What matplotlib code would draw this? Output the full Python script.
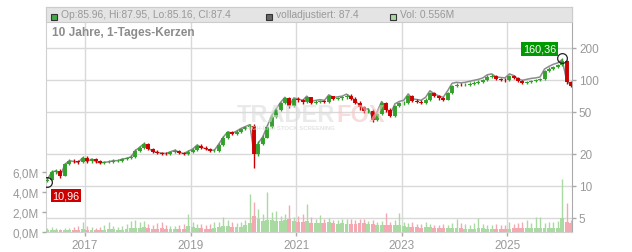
import numpy as np
import pandas as pd
import matplotlib
matplotlib.use("Agg")
import matplotlib.pyplot as plt
import matplotlib.dates as mdates
from matplotlib.patches import Rectangle

plt.rcParams['font.family'] = ['Liberation Sans', 'DejaVu Sans']

# monthly candles, one per month from Apr 2016 to Mar 2026
months = pd.date_range('2016-04-01', periods=120, freq='MS') + pd.Timedelta(days=14)

close = [
    # 2016 Apr-Dec
    11.5, 13.5, 13.9, 12.5, 16.0, 17.3, 17.0, 16.7, 18.4,
    # 2017
    17.0, 17.9, 17.0, 16.5, 16.7, 16.9, 17.3, 17.3, 17.9, 18.2, 18.8, 21.5,
    # 2018
    23.0, 24.8, 22.5, 21.0, 20.5, 20.2, 20.0, 20.8, 21.5, 20.5, 20.0, 21.0,
    # 2019
    22.0, 24.0, 23.0, 22.2, 21.5, 21.5, 24.5, 28.5, 32.0, 31.0, 32.5, 34.4,
    # 2020
    35.5, 37.0, 20.0, 25.0, 28.5, 36.0, 45.0, 52.0, 60.0, 67.0, 56.0, 66.0,
    # 2021
    64.0, 62.0, 68.0, 61.0, 62.0, 63.0, 62.0, 70.0, 66.0, 67.0, 68.0, 71.0,
    # 2022
    66.0, 61.0, 55.0, 51.0, 51.0, 42.0, 48.0, 60.0, 52.0, 46.0, 57.0, 60.0,
    # 2023
    61.0, 70.0, 63.0, 62.0, 61.0, 65.0, 75.0, 70.0, 67.0, 65.0, 75.0, 88.0,
    # 2024
    90.0, 89.0, 90.0, 92.0, 94.0, 96.0, 99.0, 106.0, 108.0, 101.0, 100.0, 99.0,
    # 2025
    108.0, 104.0, 97.0, 94.0, 96.0, 98.0, 99.0, 101.0, 120.0, 127.0, 133.0, 137.0,
    # 2026 Jan-Mar
    150.0, 95.0, 87.4,
]
first_open = 11.2

high = [
    12.2, 14.2, 14.6, 14.3, 16.6, 17.9, 18.0, 17.6, 19.2,
    19.0, 18.4, 18.3, 17.5, 17.2, 17.4, 17.8, 17.9, 18.4, 18.8, 19.4, 22.3,
    23.8, 25.8, 25.5, 23.0, 21.6, 21.1, 20.8, 21.4, 22.1, 22.0, 21.1, 21.7,
    22.8, 24.8, 24.6, 23.6, 22.8, 22.2, 25.2, 29.5, 33.0, 32.8, 33.5, 35.4,
    36.5, 38.4, 38.0, 26.5, 30.0, 37.5, 46.5, 54.0, 62.0, 69.0, 68.5, 67.5,
    68, 66, 70, 69, 64, 65, 65, 72, 71, 69, 70, 73,
    73, 68, 63, 57, 54, 53, 49, 62, 62, 54, 58, 62,
    63.5, 72, 71.5, 65.5, 64, 67, 77, 77, 71.5, 69, 77, 90,
    93, 92.5, 92.5, 95, 97, 99, 102, 110, 112, 110, 104, 103,
    111, 110, 106, 99, 98, 100, 102, 104, 123, 131, 136, 142,
    160.36, 152, 97,
]
low = [
    10.96, 11.3, 12.9, 12.0, 12.3, 15.6, 16.4, 16.2, 16.4,
    16.5, 16.6, 16.6, 16.0, 16.1, 16.3, 16.5, 16.8, 16.9, 17.4, 17.8, 18.4,
    21.0, 22.4, 22.0, 20.5, 20.0, 19.7, 19.5, 19.6, 20.3, 20.0, 19.4, 19.5,
    20.4, 21.5, 22.5, 21.8, 21.0, 20.9, 21.0, 24.0, 27.8, 30.2, 30.3, 31.8,
    33.5, 34.8, 14.8, 19.0, 24.5, 28.0, 35.0, 44.0, 51.0, 58.5, 54.0, 55.0,
    62, 59.5, 61, 59.5, 59.5, 60.5, 60, 61, 64, 64, 65, 66,
    64, 59, 52, 49, 48.5, 40, 41, 47, 50, 44.5, 45, 55,
    58, 59.5, 61.5, 60, 59, 59.5, 63.5, 68, 65, 63, 64, 73,
    85, 86.5, 87, 88, 90, 92, 94, 97, 103, 99, 97, 96,
    97, 101, 95, 91, 92, 94, 95, 97, 100, 117, 124, 130,
    135, 92, 86,
]

# gap between grey "volladjustiert" line and candles, per year
adj_factor = {2016: 1.0, 2017: 1.0, 2018: 1.01, 2019: 1.01, 2020: 1.02, 2021: 1.03,
              2022: 1.04, 2023: 1.05, 2024: 1.05, 2025: 1.05, 2026: 1.03}

# volume in millions: typical daily level and largest day per month
vol_base = [
    .22, .25, .22, .2, .2, .2, .22, .25, .3,
    .25, .25, .22, .22, .25, .3, .3, .25, .25, .3, .4, .45,
    .45, .5, .4, .35, .35, .4, .3, .3, .3, .3, .35, .6,
    .5, .45, .4, .35, .35, .45, .5, .6, .6, .55, .5, .5,
    .7, .9, 1.6, 1.3, 1.1, 1.2, 1.2, 1.1, 1.1, 1.2, 1.3, 1.1,
    1.0, 1.0, 1.1, .9, .9, .95, .9, 1.0, .9, .85, .9, .85,
    .8, .85, .9, .9, .85, .8, .7, .75, .75, .7, .7, .7,
    .6, .55, .5, .5, .45, .5, .5, .45, .45, .45, .4, .45,
    .4, .4, .35, .35, .35, .4, .4, .35, .35, .35, .35, .35,
    .35, .4, .4, .4, .4, .45, .4, .4, .45, .4, .4, .45,
    1.4, 1.0, .9,
]
vol_peak = [
    .45, .5, .4, .35, .4, .45, .5, .6, 1.0,
    .6, .5, .45, .5, .7, 1.0, .6, .5, .6, .8, 1.1, 1.2,
    1.0, 1.1, .8, .7, .9, 1.0, .7, .6, .6, .7, .8, 1.8,
    1.0, .8, .8, .7, .8, 1.0, 1.0, 1.5, 1.2, 1.0, .9, 1.0,
    1.2, 3.8, 3.0, 2.3, 1.8, 4.0, 2.0, 2.1, 1.6, 1.8, 2.7, 1.5,
    1.6, 1.8, 2.8, 1.5, 1.3, 1.7, 1.3, 1.4, 1.2, 1.2, 1.3, 1.3,
    1.3, 1.2, 1.3, 1.3, 1.1, 1.2, 1.0, 1.1, 1.9, 1.0, 1.2, 1.9,
    1.0, .9, 1.0, .8, .8, 1.0, .8, .7, .7, .8, .7, .9,
    1.3, .9, .8, .7, .9, 1.4, .8, .7, .7, .8, .7, .7,
    1.0, .8, .9, 1.0, 1.2, .9, 1.5, 1.5, .9, 1.0, 1.0, 1.1,
    5.3, 2.9, 1.2,
]

price_ticks = [5, 10, 20, 50, 100, 200]
vol_ticks = [0, 2, 4, 6]
vol_labels = ['0,0M', '2,0M', '4,0M', '6,0M']
year_ticks = [2017, 2019, 2021, 2023, 2025]

header_items = [
    ('#44aa44', 'Op:85.96, Hi:87.95, Lo:85.16, Cl:87.4', 51),
    ('#666666', 'volladjustiert: 87.4', 266),
    ('#a8d8a0', 'Vol: 0.556M', 390),
]

GREEN = '#33a02c'
RED = '#cc0000'
VGREEN = '#a9daa2'
VRED = '#f2a9b1'
GRID = '#d9d9d9'
TXT = '#999999'

W, H = 632, 253
fig = plt.figure(figsize=(W / 100, H / 100), dpi=100)
ax = fig.add_axes([46 / W, 20 / H, 526 / W, 225 / H])
axv = ax.twinx()

x = mdates.date2num(months)
opens = [first_open] + close[:-1]
up = [c >= o for o, c in zip(opens, close)]

# price axis
ax.set_yscale('log')
ax.set_ylim(3.69, 483)
ax.set_xlim(mdates.date2num(pd.Timestamp('2016-04-06')), mdates.date2num(pd.Timestamp('2026-03-24')))

for p in price_ticks:
    ax.axhline(p, color=GRID, lw=1, zorder=0)
for yr in year_ticks:
    ax.axvline(mdates.date2num(pd.Timestamp(f'{yr}-01-01')), color=GRID, lw=1, zorder=0)

adj = [c * adj_factor[d.year] for d, c in zip(months, close)]
ax.plot(x, adj, color='#8c8c8c', lw=1.1, zorder=2)

cols = [GREEN if u else RED for u in up]
ax.vlines(x, low, high, colors=cols, lw=1.0, zorder=3)
ax.vlines(x, np.minimum(opens, close), np.maximum(opens, close), colors=cols, lw=2.8, zorder=3)

ax.yaxis.tick_right()
ax.set_yticks(price_ticks)
ax.set_yticklabels([str(p) for p in price_ticks])
ax.yaxis.set_minor_locator(matplotlib.ticker.NullLocator())
ax.set_xticks([mdates.date2num(pd.Timestamp(f'{yr}-01-01')) for yr in year_ticks])
ax.set_xticklabels([str(yr) for yr in year_ticks])
ax.tick_params(axis='both', colors='#aaaaaa', labelcolor=TXT, labelsize=8.5, length=3, width=1, pad=2)
for s in ['top', 'left', 'bottom']:
    ax.spines[s].set_color('#d0d0d0')
ax.spines['right'].set_color('#aaaaaa')

# low / high markers
i_lo = int(np.argmin(low))
i_hi = int(np.argmax(high))
ax.plot(x[i_lo], low[i_lo], 'o', ms=7, mfc='none', mec='#222222', mew=0.9, zorder=6)
ax.plot(x[i_hi], high[i_hi], 'o', ms=7, mfc='none', mec='#222222', mew=0.9, zorder=6)
ax.annotate(f'{low[i_lo]:.2f}'.replace('.', ','), (x[i_lo], low[i_lo]), xytext=(5, -9),
            textcoords='offset pixels', ha='left', va='top', color='white', fontsize=7.8, zorder=7,
            bbox=dict(boxstyle='square,pad=0.15', fc=RED, ec='none'))
ax.annotate(f'{high[i_hi]:.2f}'.replace('.', ','), (x[i_hi], high[i_hi]), xytext=(-6, 4),
            textcoords='offset pixels', ha='right', va='bottom', color='white', fontsize=7.8, zorder=7,
            bbox=dict(boxstyle='square,pad=0.15', fc='#009900', ec='none'))

# volume axis
axv.set_ylim(0, 22.5)
vcols = [VGREEN if u else VRED for u in up]
axv.bar(x, vol_base, width=27, color=vcols, lw=0, zorder=1)
axv.vlines(x, 0, vol_peak, colors=vcols, lw=1.0, zorder=1)
axv.yaxis.tick_left()
axv.set_yticks(vol_ticks)
axv.set_yticklabels(vol_labels)
axv.tick_params(axis='y', colors='#aaaaaa', labelcolor=TXT, labelsize=8.5, length=3, width=1, pad=2)
for s in axv.spines.values():
    s.set_visible(False)

# header band
fig.add_artist(Rectangle((46 / W, (H - 23) / H), 526 / W, 15 / H, transform=fig.transFigure,
                         fc='#e4e4e4', ec='#cccccc', lw=0.8, zorder=5))
for col, label, px in header_items:
    fig.add_artist(Rectangle((px / W, (H - 21) / H), 6 / W, 6 / H, transform=fig.transFigure,
                             fc=col, ec='#333333', lw=0.8, zorder=6))
    fig.text((px + 10) / W, (H - 15.5) / H, label, fontsize=7.4, color=TXT, va='center', zorder=6)

fig.text(52 / W, (H - 33) / H, '10 Jahre, 1-Tages-Kerzen', fontsize=8.6, fontweight='bold',
         color='#8c8c8c', va='center', zorder=6)

# watermark
fig.text(335 / W, (H - 116) / H, 'TRADER', fontsize=17, fontweight='bold', color='#dcdcdc',
         alpha=0.6, ha='right', va='center', zorder=4)
fig.text(336 / W, (H - 116) / H, 'FOX', fontsize=17, fontweight='bold', color='#f4c4c4',
         alpha=0.6, ha='left', va='center', zorder=4)
fig.text(290 / W, (H - 129) / H, 'HIGH-END STOCK SCREENING', fontsize=4.3, fontweight='bold',
         color='#d8d8d8', alpha=0.7, ha='center', va='center', zorder=4)

fig.savefig('out.png', dpi=100)
